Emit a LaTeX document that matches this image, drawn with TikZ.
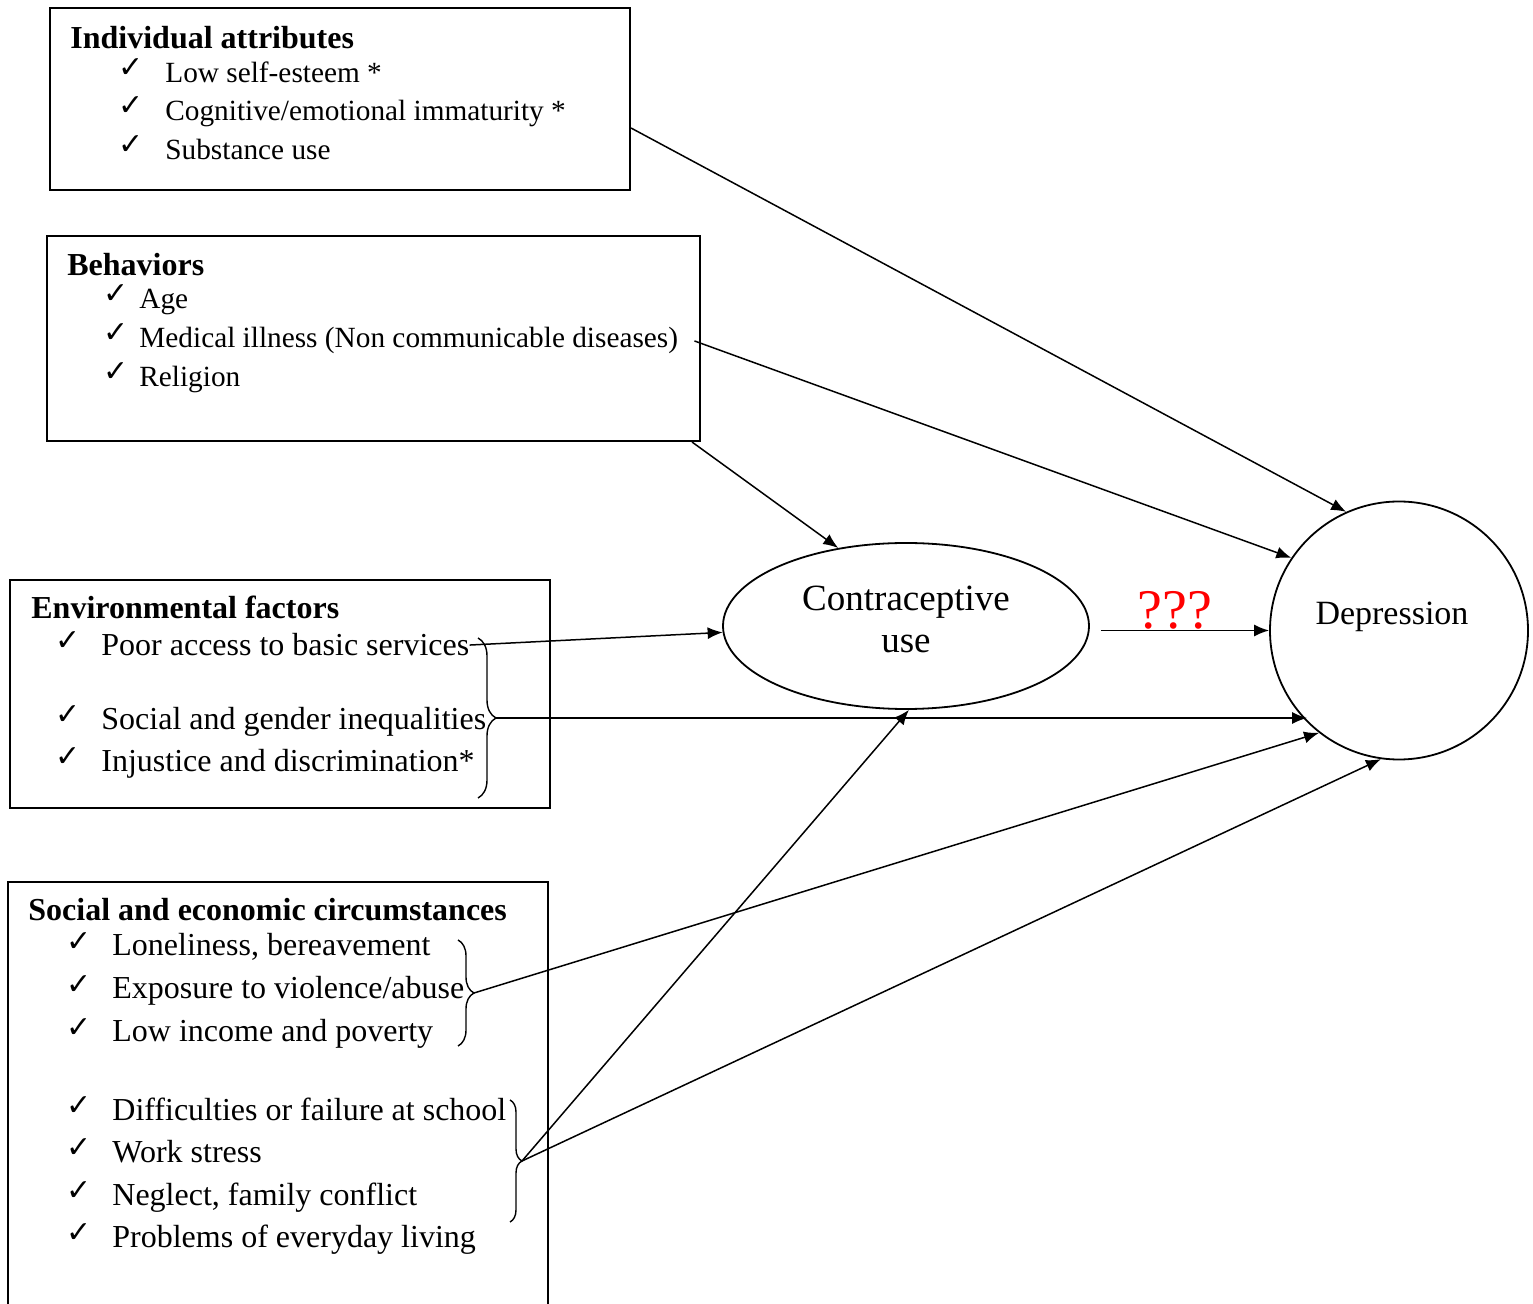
\documentclass[tikz,border=0pt]{standalone}
\usepackage{fontspec}
\setmainfont{Liberation Serif}
\newfontfamily\checkfont{DejaVu Sans}
\usetikzlibrary{arrows.meta, positioning, shapes.geometric, decorations.pathreplacing, calc}

\begin{document}
\begin{tikzpicture}[x=0.5pt, y=-0.5pt,
        box/.style={draw, line width=1pt, anchor=north west, inner sep=0pt},
        head/.style={anchor=base west, inner sep=0pt, font=\fontsize{16}{19}\selectfont\bfseries},
        item/.style={anchor=base west, inner sep=0pt, font=\fontsize{14.65}{17}\selectfont},
        bigitem/.style={item, font=\fontsize{16}{19}\selectfont},
        chk/.style={anchor=base west, inner sep=0pt, yshift=2.5pt, font=\checkfont\fontsize{15}{17}\selectfont},
        link/.style={draw, line width=0.75pt, -{Latex[length=7.5pt, width=6pt]}},
        curly/.style={draw, line width=0.7pt, decorate, decoration={brace, amplitude=#1}}
    ]
    \useasboundingbox (0,0) rectangle (1533,1304);

    % the four boxes on the left (the last one runs off the page)
    \node[box, minimum width=290pt, minimum height=91pt] (indiv) at (49,7) {};
    \node[box, minimum width=326.5pt, minimum height=102.5pt] (behav) at (46,235) {};
    \node[box, minimum width=270pt, minimum height=114pt] (envir) at (9,579) {};
    \node[box, minimum width=270pt, minimum height=216pt] (socio) at (7,881) {};

    \node[head] (indivhead) at (70,49) {Individual attributes};
    \node[head] (behavhead) at (67,276) {Behaviors};
    \node[head] (envirhead) at (31,619) {Environmental factors};
    \node[head] (sociohead) at (28,921) {Social and economic circumstances};

    \foreach \y/\t [count=\i] in {83/{Low self-esteem *}, 121/{Cognitive/emotional immaturity *}, 160/{Substance use}} {
        \node[chk] (indchk\i) at (118,\y) {✓};
        \node[item] (ind\i) at (165,\y) {\t};
    }
    \foreach \y/\t [count=\i] in {309/{Age}, 348/{Medical illness (Non communicable diseases)}, 387/{Religion}} {
        \node[chk] (behchk\i) at (103,\y) {✓};
        \node[item] (beh\i) at (139,\y) {\t};
    }
    \foreach \y/\t [count=\i] in {656/{Poor access to basic services}, 730/{Social and gender inequalities}, 772/{Injustice and discrimination*}} {
        \node[chk] (envchk\i) at (55,\y) {✓};
        \node[bigitem] (env\i) at (101,\y) {\t};
    }
    \foreach \y/\t [count=\i] in {956/{Loneliness, bereavement}, 999/{Exposure to violence/abuse}, 1042/{Low income and poverty},
            1120/{Difficulties or failure at school}, 1162/{Work stress}, 1205/{Neglect, family conflict}, 1247/{Problems of everyday living}} {
        \node[chk] (socchk\i) at (66,\y) {✓};
        \node[bigitem] (soc\i) at (112,\y) {\t};
    }

    % braces
    \draw[curly=9pt] (478,638) -- (478,798);
    \draw[curly=8pt] (458,940) -- (458,1046);
    \draw[curly=6pt] (510,1100) -- (510,1222);
    \coordinate (envtip) at (496,718);
    \coordinate (soctipa) at (474,993);
    \coordinate (soctipb) at (522,1161);

    % outcome nodes
    \node[draw, ellipse, line width=0.9pt, minimum width=183pt, minimum height=83pt, inner sep=0pt,
        label={[align=center, font=\fontsize{18.5}{21}\selectfont, shift={(0,3.5pt)}]center:Contraceptive\\use}] (contra) at (906,626) {};
    \node[draw, circle, line width=0.9pt, minimum size=129pt, inner sep=0pt,
        label={[font=\fontsize{17}{20}\selectfont, shift={(-3.5pt,7pt)}]center:Depression}] (depr) at (1399,630.5) {};

    % links
    \draw[link] ([yshift=-14.5pt]indiv.east) -- (depr.114);
    \draw[link] ([xshift=8pt]beh2.east) -- (depr.146);
    \draw[link] ([xshift=-4.5pt]behav.south east) -- (contra.131);
    \draw[link] (env1.east) -- (contra.182);
    \draw[link] (envtip) -- (envtip -| depr.225);
    \draw[link] ($(contra.east |- depr.west)+(11,0)$) -- node[above, pos=0.44, inner sep=0pt, red,
        font=\fontsize{28}{30}\selectfont] (qmarks) {???} (depr.west);
    \draw[link] (soctipa) -- (depr.232);
    \draw[link] (soctipb) -- (contra.272);
    \draw[link] (soctipb) -- (depr.262);
\end{tikzpicture}
\end{document}
